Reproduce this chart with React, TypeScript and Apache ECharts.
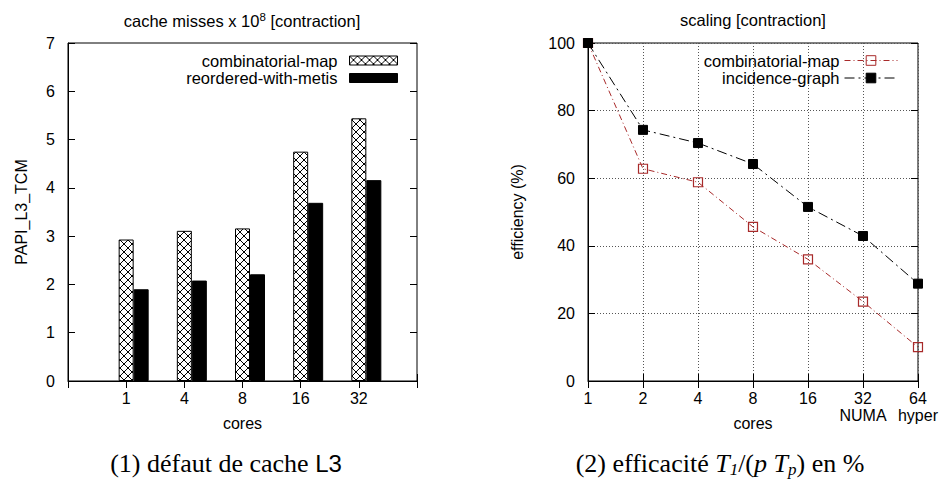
import React, { useEffect, useRef } from 'react';
import * as echarts from 'echarts';

// ---- data: cache misses (left) ----
const barCategories = ['1', '4', '8', '16', '32'];
const combinatorialMapMisses = [2.93, 3.11, 3.16, 4.75, 5.44];
const reorderedMetisMisses = [1.9, 2.08, 2.21, 3.69, 4.16];
const missesMin = 0;
const missesMax = 7;
const missesInterval = 1;

// ---- data: scaling (right) ----
const scalingCategories = ['1', '2', '4', '8', '16', '32', '64'];
const scalingSubLabels = ['', '', '', '', '', 'NUMA', 'hyper'];
const combinatorialMapEfficiency = [100, 62.8, 58.8, 45.6, 36.0, 23.5, 10.0];
const incidenceGraphEfficiency = [100, 74.3, 70.4, 64.2, 51.5, 42.9, 28.8];
const effMin = 0;
const effMax = 100;
const effInterval = 20;

const SANS = '"Liberation Sans", Arial, Helvetica, sans-serif';
const SERIF = '"Liberation Serif", "Times New Roman", serif';
const RED = '#a82a2a';
const CM_SCALING = 'combinatorial-map (scaling)';

function makeHatch() {
  const c = document.createElement('canvas');
  c.width = 8;
  c.height = 8;
  const ctx = c.getContext('2d');
  if (ctx) {
    ctx.fillStyle = '#fff';
    ctx.fillRect(0, 0, 8, 8);
    ctx.strokeStyle = '#000';
    ctx.lineWidth = 1;
    ctx.beginPath();
    ctx.moveTo(-1, -1);
    ctx.lineTo(9, 9);
    ctx.moveTo(9, -1);
    ctx.lineTo(-1, 9);
    ctx.stroke();
  }
  return { image: c.toDataURL(), repeat: 'repeat', imageWidth: 8, imageHeight: 8 };
}

export default function App() {
  const ref = useRef<HTMLDivElement>(null);

  useEffect(() => {
    if (!ref.current) return;
    const chart = echarts.init(ref.current, null, { renderer: 'svg' });
    const hatch = makeHatch();

    const leftAxisData = ['', ...barCategories, ''];
    const rightAxisData = scalingCategories.map((c, i) =>
      scalingSubLabels[i] ? c + '\n' + scalingSubLabels[i] : c
    );

    const tickStyle = { show: true, inside: true, length: 7, lineStyle: { color: '#000', width: 1 } };
    const labelStyle = { color: '#000', fontSize: 16, fontFamily: SANS };
    const nameStyle = { color: '#000', fontSize: 16, fontFamily: SANS };
    const dotted = { show: true, lineStyle: { color: '#555', width: 1, type: [1, 2] } };

    const option: any = {
      animation: false,
      backgroundColor: '#fff',
      grid: [
        { left: 68, top: 43, width: 349, height: 338, show: true, borderColor: '#000', borderWidth: 1, backgroundColor: 'transparent' },
        { left: 588, top: 43, width: 330, height: 338, show: true, borderColor: '#000', borderWidth: 1, backgroundColor: 'transparent' },
      ],
      xAxis: [
        {
          type: 'category', gridIndex: 0, data: leftAxisData, boundaryGap: false,
          axisLine: { show: true, lineStyle: { color: '#000' } },
          axisTick: { ...tickStyle, interval: 0 },
          axisLabel: { ...labelStyle, margin: 9, interval: 0 },
          splitLine: { show: false },
          name: 'cores', nameLocation: 'middle', nameGap: 34, nameMoveOverlap: false, nameTextStyle: nameStyle,
        },
        {
          type: 'category', gridIndex: 0, data: leftAxisData, boundaryGap: false, position: 'top',
          axisLine: { show: false }, axisTick: { ...tickStyle, interval: 0 },
          axisLabel: { show: false }, splitLine: { show: false },
        },
        {
          type: 'category', gridIndex: 1, data: rightAxisData, boundaryGap: false,
          axisLine: { show: true, lineStyle: { color: '#000' } },
          axisTick: { ...tickStyle, interval: 0 },
          axisLabel: { ...labelStyle, margin: 9, interval: 0, lineHeight: 17 },
          splitLine: { ...dotted, interval: 0 },
          name: 'cores', nameLocation: 'middle', nameGap: 34, nameMoveOverlap: false, nameTextStyle: nameStyle,
        },
        {
          type: 'category', gridIndex: 1, data: rightAxisData, boundaryGap: false, position: 'top',
          axisLine: { show: false }, axisTick: { ...tickStyle, interval: 0 },
          axisLabel: { show: false }, splitLine: { show: false },
        },
      ],
      yAxis: [
        {
          type: 'value', gridIndex: 0, min: missesMin, max: missesMax, interval: missesInterval,
          axisLine: { show: true, lineStyle: { color: '#000' } },
          axisTick: tickStyle,
          axisLabel: { ...labelStyle, margin: 13 },
          splitLine: { show: false },
          name: 'PAPI_L3_TCM', nameLocation: 'middle', nameGap: 39, nameRotate: 90, nameMoveOverlap: false, nameTextStyle: nameStyle,
        },
        {
          type: 'value', gridIndex: 0, min: missesMin, max: missesMax, interval: missesInterval, position: 'right',
          axisLine: { show: false }, axisTick: tickStyle, axisLabel: { show: false }, splitLine: { show: false },
        },
        {
          type: 'value', gridIndex: 1, min: effMin, max: effMax, interval: effInterval,
          axisLine: { show: true, lineStyle: { color: '#000' } },
          axisTick: tickStyle,
          axisLabel: { ...labelStyle, margin: 13 },
          splitLine: dotted,
          name: 'efficiency (%)', nameLocation: 'middle', nameGap: 63, nameRotate: 90, nameMoveOverlap: false, nameTextStyle: nameStyle,
        },
        {
          type: 'value', gridIndex: 1, min: effMin, max: effMax, interval: effInterval, position: 'right',
          axisLine: { show: false }, axisTick: tickStyle, axisLabel: { show: false }, splitLine: { show: false },
        },
      ],
      legend: [
        {
          data: ['combinatorial-map', 'reordered-with-metis'],
          orient: 'vertical', align: 'right', right: 941 - 398, top: 52,
          itemWidth: 48, itemHeight: 9, itemGap: 0.5, padding: 0, icon: 'rect',
          selectedMode: false,
          textStyle: { color: '#000', fontSize: 16.5, fontFamily: SANS, padding: [0, 7, 0, 0] },
          itemStyle: { borderWidth: 1 },
        },
        {
          data: [CM_SCALING, 'incidence-graph'],
          formatter: (n: string) => (n === CM_SCALING ? 'combinatorial-map' : n),
          orient: 'vertical', align: 'right', right: 941 - 898, top: 52,
          itemWidth: 53, itemHeight: 12, itemGap: 0.5, padding: 0,
          selectedMode: false,
          textStyle: { color: '#000', fontSize: 16.5, fontFamily: SANS },
          itemStyle: { borderWidth: 1 },
          lineStyle: { width: 1 },
        },
      ],
      series: [
        { type: 'bar', name: '__offset', xAxisIndex: 0, yAxisIndex: 0, data: [], barWidth: 15, barGap: '0%' },
        {
          type: 'bar', name: 'combinatorial-map', xAxisIndex: 0, yAxisIndex: 0,
          data: [null, ...combinatorialMapMisses, null], barWidth: 15, barGap: '0%',
          itemStyle: { color: hatch, borderColor: '#000', borderWidth: 1 },
        },
        {
          type: 'bar', name: 'reordered-with-metis', xAxisIndex: 0, yAxisIndex: 0,
          data: [null, ...reorderedMetisMisses, null], barWidth: 15, barGap: '0%',
          itemStyle: { color: '#000', borderColor: '#000', borderWidth: 1 },
        },
        {
          type: 'line', name: CM_SCALING, xAxisIndex: 2, yAxisIndex: 2,
          data: combinatorialMapEfficiency, symbol: 'rect', symbolSize: 9,
          lineStyle: { color: RED, width: 1, type: [6, 3, 1, 3] },
          itemStyle: { color: 'rgba(255,255,255,0)', borderColor: RED, borderWidth: 1.2 },
        },
        {
          type: 'line', name: 'incidence-graph', xAxisIndex: 2, yAxisIndex: 2,
          data: incidenceGraphEfficiency, symbol: 'rect', symbolSize: 9,
          lineStyle: { color: '#000', width: 1, type: [10, 4, 2, 4] },
          itemStyle: { color: '#000', borderColor: '#000', borderWidth: 1 },
        },
      ],
      graphic: [
        {
          type: 'text', x: 242, y: 21,
          style: {
            text: '{a|cache misses x 10}{s|8}{a| [contraction]}',
            align: 'center', verticalAlign: 'middle',
            rich: {
              a: { fontSize: 16.5, fontFamily: SANS, fill: '#000', lineHeight: 20 },
              s: { fontSize: 11.5, fontFamily: SANS, fill: '#000', lineHeight: 12, verticalAlign: 'top' },
            },
          },
        },
        {
          type: 'text', x: 753, y: 20,
          style: { text: 'scaling [contraction]', fontSize: 16.5, fontFamily: SANS, fill: '#000', align: 'center', verticalAlign: 'middle' },
        },
        {
          type: 'text', x: 226, y: 463,
          style: {
            text: '{n|(1) défaut de cache }{s|L3}',
            align: 'center', verticalAlign: 'middle',
            rich: {
              n: { fontSize: 26, fontFamily: SERIF, fill: '#000', lineHeight: 30 },
              s: { fontSize: 24, fontFamily: SANS, fill: '#000', lineHeight: 30 },
            },
          },
        },
        {
          type: 'text', x: 720, y: 463,
          style: {
            text: '{n|(2) efficacité }{i|T}{sub|1}{n|/(}{i|p T}{sub|p}{n|) en %}',
            align: 'center', verticalAlign: 'middle',
            rich: {
              n: { fontSize: 26, fontFamily: SERIF, fill: '#000', lineHeight: 30 },
              i: { fontSize: 26, fontFamily: SERIF, fontStyle: 'italic', fill: '#000', lineHeight: 30 },
              sub: { fontSize: 17, fontFamily: SERIF, fontStyle: 'italic', fill: '#000', lineHeight: 17, verticalAlign: 'bottom' },
            },
          },
        },
      ],
    };

    chart.setOption(option);
    return () => chart.dispose();
  }, []);

  return (
    <div
      ref={ref}
      style={{ position: 'absolute', left: 0, top: 0, width: 941, height: 480, background: '#fff' }}
    />
  );
}
